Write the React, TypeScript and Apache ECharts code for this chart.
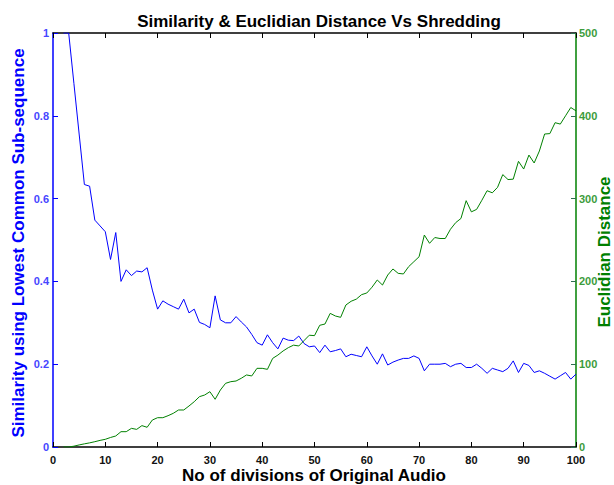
import React, { useEffect, useRef } from "react";
import * as echarts from "echarts";

const titleText = "Similarity & Euclidian Distance Vs Shredding";
const xAxisTitle = "No of divisions of Original Audio";
const leftAxisTitle = "Similarity using Lowest Common Sub-sequence";
const rightAxisTitle = "Euclidian Distance";

const divisions = [
  2, 3, 4, 5, 6, 7, 8, 9, 10, 11, 12, 13, 14, 15, 16, 17, 18, 19, 20, 21,
  22, 23, 24, 25, 26, 27, 28, 29, 30, 31, 32, 33, 34, 35, 36, 37, 38, 39, 40, 41,
  42, 43, 44, 45, 46, 47, 48, 49, 50, 51, 52, 53, 54, 55, 56, 57, 58, 59, 60, 61,
  62, 63, 64, 65, 66, 67, 68, 69, 70, 71, 72, 73, 74, 75, 76, 77, 78, 79, 80, 81,
  82, 83, 84, 85, 86, 87, 88, 89, 90, 91, 92, 93, 94, 95, 96, 97, 98, 99, 100,
];

const similarity = [
  1, 1, 0.878, 0.756, 0.634, 0.63, 0.548, 0.534, 0.52, 0.453, 0.518, 0.4, 0.428, 0.414, 0.425, 0.423, 0.433, 0.379, 0.333, 0.353,
  0.345, 0.339, 0.333, 0.357, 0.324, 0.333, 0.301, 0.296, 0.288, 0.365, 0.307, 0.3, 0.3, 0.315, 0.302, 0.29, 0.272, 0.252, 0.246, 0.271,
  0.252, 0.237, 0.263, 0.258, 0.257, 0.268, 0.25, 0.242, 0.244, 0.228, 0.246, 0.23, 0.233, 0.237, 0.218, 0.224, 0.221, 0.218, 0.242, 0.22,
  0.2, 0.225, 0.198, 0.205, 0.21, 0.214, 0.214, 0.22, 0.214, 0.184, 0.2, 0.2, 0.2, 0.202, 0.194, 0.2, 0.202, 0.192, 0.192, 0.2,
  0.19, 0.178, 0.19, 0.186, 0.182, 0.19, 0.208, 0.18, 0.202, 0.197, 0.18, 0.184, 0.178, 0.171, 0.164, 0.172, 0.18, 0.164, 0.176,
];

const distance = [
  0, 0, 1, 2.5, 3.8, 5, 6.4, 8, 9.3, 11.5, 13.3, 18.5, 18.5, 22.5, 21.3, 25.8, 23.8, 32.6, 35.4, 35.4,
  37.8, 40.7, 44.7, 44.7, 49.5, 54.7, 60.8, 62.8, 66.8, 57.6, 68.8, 76.9, 78.9, 79.7, 83, 87, 85.8, 95, 95, 93.8,
  107, 111, 116, 120, 123, 122, 128.5, 135, 134.5, 147, 148.5, 161.4, 158.2, 156.6, 171.5, 176, 178.6, 184, 186, 193,
  201.7, 195.6, 207.7, 215, 209.7, 209, 217.8, 223.8, 229.8, 256, 246, 253, 251.8, 251.8, 263, 271, 276, 297.5, 284, 287,
  298, 309.5, 307, 313.6, 329, 323, 323.5, 345, 335.7, 352.6, 343, 357.5, 378, 378.5, 391.7, 390, 400, 410, 406,
];

const FONT = "'Liberation Sans', Arial, Helvetica, sans-serif";

export default function App() {
  const ref = useRef<HTMLDivElement>(null);
  useEffect(() => {
    if (!ref.current) return;
    const chart = echarts.init(ref.current, undefined, { renderer: "svg" });
    const simData = divisions.map((d, i) => [d, similarity[i]]);
    const distData = divisions.map((d, i) => [d, distance[i]]);
    chart.setOption({
      animation: false,
      backgroundColor: "#ffffff",
      textStyle: { fontFamily: FONT },
      title: {
        text: titleText,
        left: 314,
        top: 8,
        textAlign: "center",
        textStyle: { fontFamily: FONT, fontSize: 17, fontWeight: "bold", color: "#000" },
      },
      grid: { left: 53, right: 38, top: 33, bottom: 38, containLabel: false },
      xAxis: [
        {
          type: "value",
          min: 0,
          max: 100,
          interval: 10,
          position: "bottom",
          axisLine: { show: true, lineStyle: { color: "#000", width: 1.5 } },
          axisTick: { show: true, inside: true, length: 5, lineStyle: { color: "#000" } },
          axisLabel: { color: "#111", fontSize: 11, fontFamily: FONT, fontWeight: "bold", margin: 7 },
          splitLine: { show: false },
        },
        {
          type: "value",
          min: 0,
          max: 100,
          interval: 10,
          position: "top",
          axisLine: { show: true, onZero: false, lineStyle: { color: "#000", width: 1.5 } },
          axisTick: { show: true, inside: true, length: 5, lineStyle: { color: "#000" } },
          axisLabel: { show: false },
          splitLine: { show: false },
        },
      ],
      yAxis: [
        {
          type: "value",
          min: 0,
          max: 1,
          interval: 0.2,
          position: "left",
          axisLine: { show: true, onZero: false, lineStyle: { color: "#0000ff", width: 1.5 } },
          axisTick: { show: true, inside: true, length: 5, lineStyle: { color: "#0000ff" } },
          axisLabel: { color: "#4646ff", fontSize: 11, fontFamily: FONT, fontWeight: "bold", margin: 4 },
          splitLine: { show: false },
        },
        {
          type: "value",
          min: 0,
          max: 500,
          interval: 100,
          position: "right",
          axisLine: { show: true, onZero: false, lineStyle: { color: "#008000", width: 1.5 } },
          axisTick: { show: true, inside: true, length: 5, lineStyle: { color: "#2f6f4f" } },
          axisLabel: { color: "#3c9c3c", fontSize: 11, fontFamily: FONT, fontWeight: "bold", margin: 3 },
          splitLine: { show: false },
        },
      ],
      graphic: [
        {
          type: "text",
          x: 18,
          y: 243,
          rotation: Math.PI / 2,
          style: {
            text: leftAxisTitle,
            fill: "#0000ff",
            font: `bold 17px ${FONT}`,
            align: "center",
            verticalAlign: "middle",
            textAlign: "center",
            textVerticalAlign: "middle",
          },
        },
        {
          type: "text",
          x: 604,
          y: 252,
          rotation: Math.PI / 2,
          style: {
            text: rightAxisTitle,
            fill: "#008000",
            font: `bold 17px ${FONT}`,
            align: "center",
            verticalAlign: "middle",
            textAlign: "center",
            textVerticalAlign: "middle",
          },
        },
        {
          type: "text",
          x: 314,
          y: 475,
          style: {
            text: xAxisTitle,
            fill: "#000",
            font: `bold 17px ${FONT}`,
            align: "center",
            verticalAlign: "middle",
            textAlign: "center",
            textVerticalAlign: "middle",
          },
        },
      ],
      series: [
        {
          type: "line",
          name: "Similarity",
          xAxisIndex: 0,
          yAxisIndex: 0,
          data: simData,
          showSymbol: false,
          symbol: "none",
          lineStyle: { color: "#0000ff", width: 1 },
          itemStyle: { color: "#0000ff" },
        },
        {
          type: "line",
          name: "Euclidian Distance",
          xAxisIndex: 0,
          yAxisIndex: 1,
          data: distData,
          showSymbol: false,
          symbol: "none",
          lineStyle: { color: "#008000", width: 1 },
          itemStyle: { color: "#008000" },
        },
      ],
    });
    return () => chart.dispose();
  }, []);
  return (
    <div
      ref={ref}
      style={{ position: "fixed", left: 0, top: 0, width: 614, height: 485, background: "#fff" }}
    />
  );
}
